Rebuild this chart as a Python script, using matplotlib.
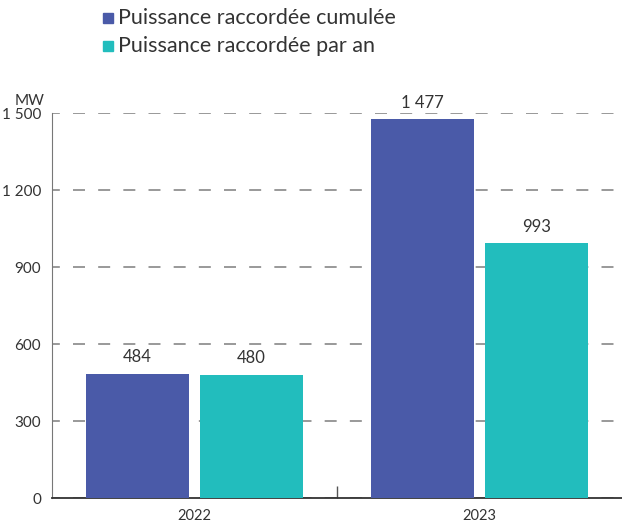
import matplotlib
matplotlib.use("Agg")
import matplotlib.pyplot as plt
import numpy as np

plt.rcParams['font.family'] = ['Lato', 'DejaVu Sans']

years = ["2022", "2023"]
cumulee = [484, 1477]
par_an = [480, 993]
series_names = ["Puissance raccordée cumulée", "Puissance raccordée par an"]
y_ticks = [0, 300, 600, 900, 1200, 1500]

col_cum = "#4A5AA8"
col_an = "#22BDBD"
txt = "#333333"

def fmt(v):
    return f"{v:,}".replace(",", " ")

fig = plt.figure(figsize=(6.22, 5.31), dpi=100)
ax = fig.add_axes([0.0836, 0.0621, 0.9164, 0.725])

x = np.arange(len(years))
w = 0.361
b1 = ax.bar(x - 0.2, cumulee, w, color=col_cum, zorder=3)
b2 = ax.bar(x + 0.2, par_an, w, color=col_an, zorder=3)
ax.bar_label(b1, labels=[fmt(v) for v in cumulee], padding=6, fontsize=12, color=txt)
ax.bar_label(b2, labels=[fmt(v) for v in par_an], padding=6, fontsize=12, color=txt)

ax.set_xlim(-0.5, 1.5)
ax.set_ylim(0, 1500)
ax.set_yticks(y_ticks)
ax.set_yticklabels([fmt(v) for v in y_ticks], fontsize=11, color=txt)
ax.set_xticks(x)
ax.set_xticklabels(years, fontsize=10.5, color=txt)
ax.set_xticks([0.5], minor=True)
ax.tick_params(axis='x', which='major', length=0, pad=8)
ax.tick_params(axis='x', which='minor', direction='in', length=9, width=1, color="#555555")
ax.tick_params(axis='y', length=0, pad=8)

ax.grid(axis='y', linestyle=(2.5, (7.2, 7.9)), color="#888888", linewidth=1.2, zorder=0)
for s in ['top', 'right']:
    ax.spines[s].set_visible(False)
ax.spines['left'].set_color("#777777")
ax.spines['bottom'].set_color("#333333")
ax.spines['bottom'].set_linewidth(1.3)

fig.text(0.047, 0.81, "MW", fontsize=11, color=txt, ha='center', va='center')

# legend
for i, (name, c) in enumerate(zip(series_names, [col_cum, col_an])):
    yy = 1 - (18 + 28 * i) / 531
    fig.patches.append(plt.Rectangle((103 / 622, yy - 5 / 531), 10 / 622, 10 / 531,
                                     transform=fig.transFigure, color=c))
    fig.text(118 / 622, yy, name, fontsize=15.5, color=txt, va='center')

fig.savefig("out.png", dpi=100)
